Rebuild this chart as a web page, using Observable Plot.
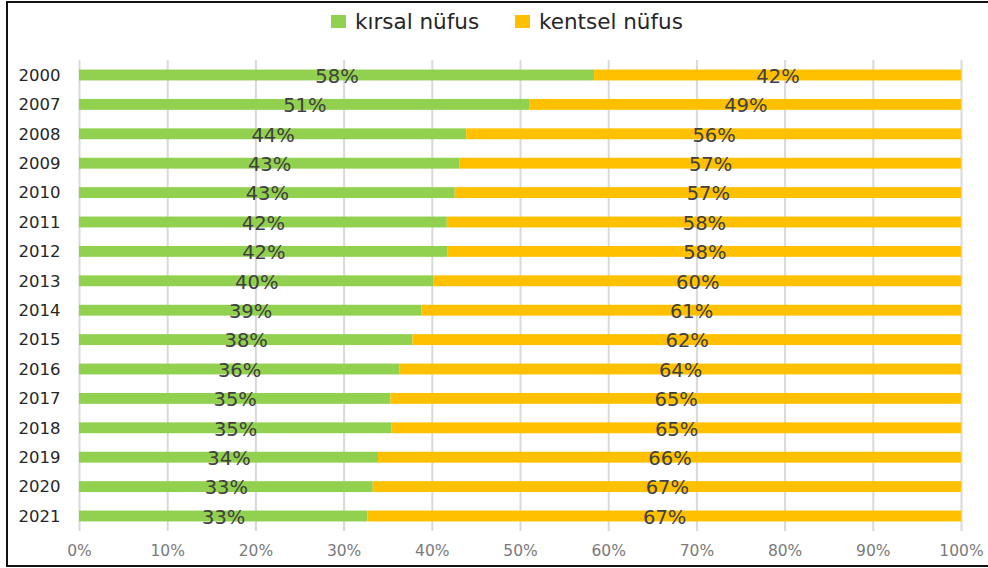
<!DOCTYPE html>
<html>
<head>
<meta charset="utf-8">
<script src="https://cdn.jsdelivr.net/npm/d3@7"></script>
<script src="https://cdn.jsdelivr.net/npm/@observablehq/plot@0.6"></script>
<style>
  html, body { margin: 0; padding: 0; background: #fff; }
  body { width: 988px; height: 568px; position: relative; overflow: hidden; font-family: "DejaVu Sans", Verdana, sans-serif; }
  #frame { position: absolute; left: 6px; top: 1px; width: 990px; height: 566px; box-sizing: border-box;
           border-left: 2px solid #111; border-top: 2px solid #111; border-bottom: 2px solid #111; }
  #legend { position: absolute; top: 9px; left: 0; width: 988px; height: 28px; }
  .item { position: absolute; top: 0; display: flex; align-items: center; font-size: 21.5px; color: #262626; white-space: nowrap; }
  .sw { width: 15px; height: 13px; margin-right: 9px; }
  #chart { position: absolute; left: 0; top: 45px; }
</style>
</head>
<body>
<div id="frame"></div>
<div id="legend"></div>
<div id="chart"></div>
<script>
const years = ["2000","2007","2008","2009","2010","2011","2012","2013","2014","2015","2016","2017","2018","2019","2020","2021"];
const rural = [58.4, 51.1, 43.9, 43.1, 42.6, 41.7, 41.8, 40.2, 38.8, 37.8, 36.3, 35.3, 35.4, 33.9, 33.3, 32.7];
const urban = [41.6, 48.9, 56.1, 56.9, 57.4, 58.3, 58.2, 59.8, 61.2, 62.2, 63.7, 64.7, 64.6, 66.1, 66.7, 67.3];
const seriesNames = ["kırsal nüfus", "kentsel nüfus"];
const seriesColors = ["#92D050", "#FFC000"];
const xTicks = [0,10,20,30,40,50,60,70,80,90,100];

const data = [];
years.forEach((y, i) => {
  data.push({year: y, series: seriesNames[0], value: rural[i]});
  data.push({year: y, series: seriesNames[1], value: urban[i]});
});

// legend
const legend = document.getElementById("legend");
const legendX = [331, 515];
seriesNames.forEach((s, i) => {
  const it = document.createElement("div");
  it.className = "item";
  it.style.left = legendX[i] + "px";
  const sw = document.createElement("div");
  sw.className = "sw";
  sw.style.background = seriesColors[i];
  const t = document.createElement("span");
  t.textContent = s;
  it.appendChild(sw); it.appendChild(t);
  legend.appendChild(it);
});

const chart = Plot.plot({
  width: 988,
  height: 520,
  marginLeft: 79,
  marginRight: 27,
  marginTop: 15,
  marginBottom: 34,
  style: {fontFamily: "DejaVu Sans, Verdana, sans-serif", background: "transparent", overflow: "visible"},
  x: {domain: [0, 100], axis: null},
  y: {domain: years, paddingInner: 0.63, paddingOuter: 0.325, round: false, axis: null},
  color: {domain: seriesNames, range: seriesColors},
  marks: [
    Plot.ruleX(xTicks, {stroke: "#d9d9d9", strokeWidth: 2}),
    Plot.barX(data, Plot.stackX({x: "value", y: "year", fill: "series", order: seriesNames})),
    Plot.text(data, Plot.stackX({x: "value", y: "year", z: "series", order: seriesNames,
      text: d => Math.round(d.value) + "%", fill: "#404040", fontSize: 19.5, dy: 1})),
    Plot.axisY({tickSize: 0, tickPadding: 19, fontSize: 16.5, color: "#262626", label: null}),
    Plot.axisX(xTicks, {tickSize: 0, tickPadding: 13, fontSize: 15.5, color: "#7a7a7a",
      tickFormat: d => d + "%", label: null})
  ]
});
document.getElementById("chart").appendChild(chart);
</script>
</body>
</html>
